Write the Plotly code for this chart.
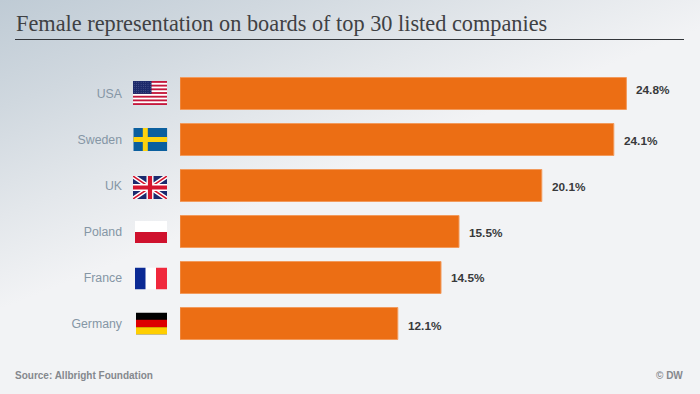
import base64
import plotly.graph_objects as go

countries = ["USA", "Sweden", "UK", "Poland", "France", "Germany"]
values = [24.8, 24.1, 20.1, 15.5, 14.5, 12.1]
labels = ["24.8%", "24.1%", "20.1%", "15.5%", "14.5%", "12.1%"]
TITLE = "Female representation on boards of top 30 listed companies"
SOURCE = "Source: Allbright Foundation"
CREDIT = "© DW"

W, H = 700, 394


def uri(svg):
    return "data:image/svg+xml;base64," + base64.b64encode(svg.encode()).decode()


background = uri(
    f'<svg xmlns="http://www.w3.org/2000/svg" width="{W}" height="{H}" viewBox="0 0 {W} {H}" preserveAspectRatio="none">'
    '<defs><linearGradient id="g" gradientUnits="userSpaceOnUse" x1="0" y1="0" x2="107" y2="267">'
    '<stop offset="0" stop-color="#bfcbd5"/><stop offset="0.35" stop-color="#d0d8df"/>'
    '<stop offset="0.7" stop-color="#e3e7eb"/><stop offset="1" stop-color="#f2f3f5"/>'
    f'</linearGradient></defs><rect width="{W}" height="{H}" fill="url(#g)"/></svg>'
)


def flag(body, w, h):
    return uri(
        f'<svg xmlns="http://www.w3.org/2000/svg" width="{w*4}" height="{h*4}" viewBox="0 0 {w} {h}" '
        f'preserveAspectRatio="none">{body}</svg>'
    )


def usa():
    s = '<rect width="34" height="24" fill="#fff"/>'
    for i in range(0, 13, 2):
        s += f'<rect y="{i*24/13:.3f}" width="34" height="{24/13:.3f}" fill="#c4183c"/>'
    s += '<rect width="18.5" height="12.9" fill="#1c2a6b"/>'
    for r in range(6):
        for c in range(8):
            s += f'<circle cx="{1.2+c*2.3:.2f}" cy="{1.2+r*2.1:.2f}" r="0.35" fill="#8e96bd"/>'
    return flag(s, 34, 24)


sweden = flag('<rect width="34" height="23" fill="#0b5f9e"/><rect x="9.5" width="5" height="23" fill="#fdd20f"/>'
              '<rect y="9" width="34" height="5" fill="#fdd20f"/>', 34, 23)
uk = flag('<rect width="34" height="23" fill="#1b2a6e"/>'
          '<path d="M0 0L34 23M34 0L0 23" stroke="#fff" stroke-width="4.4"/>'
          '<path d="M0 0L34 23M34 0L0 23" stroke="#d5152e" stroke-width="1.5"/>'
          '<path d="M17 0V23M0 11.5H34" stroke="#fff" stroke-width="7"/>'
          '<path d="M17 0V23M0 11.5H34" stroke="#d5152e" stroke-width="4.2"/>', 34, 23)
poland = flag('<rect width="32" height="22" fill="#fff"/><rect y="11" width="32" height="11" fill="#cf112d"/>', 32, 22)
france = flag('<rect width="32" height="22" fill="#fff"/><rect width="10.5" height="22" fill="#0b2a94"/>'
              '<rect x="21" width="11" height="22" fill="#f0283c"/>', 32, 22)
germany = flag('<rect width="31" height="22" fill="#000"/><rect y="7.3" width="31" height="7.4" fill="#dd0000"/>'
               '<rect y="14.7" width="31" height="7.3" fill="#ffce00"/>', 31, 22)
flags = [(usa(), 150, 34, 24, -0.5), (sweden, 150.3, 34, 23, 0), (uk, 150, 34, 23, 2),
         (poland, 151, 32, 22, 0.5), (france, 151, 32, 22, 1), (germany, 151.5, 31, 22, 0)]

BAR_PX = 18.0
TOP, STEP = 70.5, 46
label_yshift = [4, -1, -1, -1, 0, -2]

fig = go.Figure(go.Bar(
    x=values, y=countries, orientation="h", width=32 / 46,
    marker=dict(color="#ec6e14", line=dict(color="#f29a5c", width=1)),
    hoverinfo="skip",
))

images = [dict(source=background, xref="paper", yref="paper", x=0, y=1, sizex=1, sizey=1,
               xanchor="left", yanchor="top", sizing="stretch", layer="below")]
for i, (src, cx, w, h, dy) in enumerate(flags):
    images.append(dict(source=src, xref="paper", yref="y", x=cx / W, y=i + dy / STEP,
                       sizex=w / W, sizey=h / STEP, xanchor="center", yanchor="middle",
                       sizing="stretch", layer="above"))

annotations = [dict(x=v, y=c, text=t, xref="x", yref="y", xanchor="left", yanchor="middle", xshift=8,
                    yshift=s, showarrow=False,
                    font=dict(family="Liberation Sans", size=11.8, color="#38393b", weight="bold"))
               for v, c, t, s in zip(values, countries, labels, label_yshift)]
annotations += [
    dict(x=15 / W, y=1 - 24 / H, xref="paper", yref="paper", text=TITLE, showarrow=False, xanchor="left",
         yanchor="middle", xshift=-1, font=dict(family="Liberation Serif", size=22.3, color="#3f4144")),
    dict(x=15 / W, y=1 - 375 / H, xref="paper", yref="paper", text=SOURCE, showarrow=False, xanchor="left",
         yanchor="middle", xshift=-2, font=dict(family="Liberation Sans", size=10, color="#85888d", weight="bold")),
    dict(x=684 / W, y=1 - 375 / H, xref="paper", yref="paper", text=CREDIT, showarrow=False, xanchor="right",
         yanchor="middle", xshift=1, font=dict(family="Liberation Sans", size=10, color="#85888d", weight="bold")),
]

fig.update_layout(
    width=W, height=H, margin=dict(l=0, r=0, t=0, b=0),
    paper_bgcolor="#f2f3f5", plot_bgcolor="rgba(0,0,0,0)", showlegend=False,
    images=images, annotations=annotations,
    shapes=[dict(type="line", xref="paper", yref="paper", x0=15 / W, x1=684 / W, y0=1 - 39.5 / H, y1=1 - 39.5 / H,
                 line=dict(color="#33363a", width=1))],
    xaxis=dict(domain=[180 / W, 1], range=[0, (W - 180) / BAR_PX], visible=False, fixedrange=True),
    yaxis=dict(domain=[1 - (TOP + 6 * STEP) / H, 1 - TOP / H], categoryorder="array", categoryarray=countries,
               autorange=False, range=[5.5, -0.5], anchor="x", showline=False, showgrid=False, zeroline=False,
               ticks="", ticklabelstandoff=57, fixedrange=True,
               tickfont=dict(family="Liberation Sans", size=12.3, color="#8596a5")),
)
fig.write_html("out.html", config=dict(displayModeBar=False),
               post_script="document.body.style.margin='0';document.body.style.overflow='hidden';")
